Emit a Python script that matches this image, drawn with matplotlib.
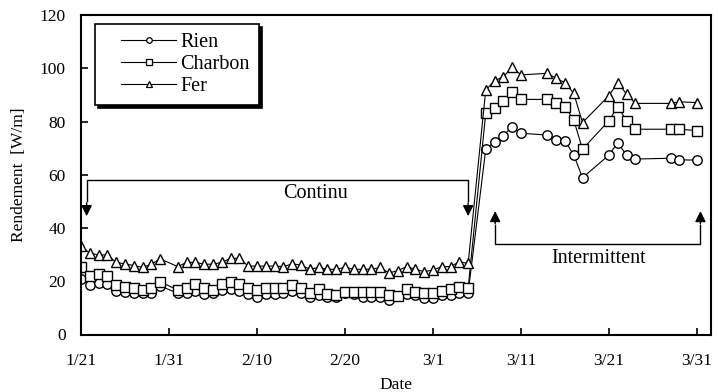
import matplotlib
matplotlib.use("Agg")
import matplotlib.pyplot as plt
from matplotlib.lines import Line2D
from matplotlib.legend_handler import HandlerLine2D

plt.rcParams['font.family'] = ['Liberation Serif', 'DejaVu Serif']

# day offsets from 1/21
days = [0, 1, 2, 3, 4, 5, 6, 7, 8, 9,
        11, 12, 13, 14, 15, 16, 17, 18, 19, 20, 21, 22, 23, 24, 25, 26, 27, 28,
        29, 30, 31, 32, 33, 34, 35, 36, 37, 38, 39, 40, 41, 42, 43, 44,
        46, 47, 48, 49, 50, 53, 54, 55, 56, 57, 60, 61, 62, 63, 67, 68, 70]

rien = [20.7, 18.6, 19.5, 19.0, 16.3, 16.1, 15.7, 15.5, 15.5, 18.2,
        15.5, 15.7, 16.5, 15.2, 15.5, 16.7, 17.0, 16.5, 15.2, 14.2, 15.2, 15.2, 15.5, 16.5, 15.7, 14.2, 14.8, 14.2,
        14.2, 15.7, 15.2, 14.2, 14.2, 14.2, 13.0, 14.5, 15.2, 14.8, 13.6, 13.6, 14.8, 14.8, 15.7, 15.7,
        69.6, 72.4, 74.6, 78.1, 75.6, 74.9, 73.1, 72.8, 67.4, 58.9, 67.4, 72.0, 67.4, 65.9, 66.2, 65.6, 65.5]

charbon = [25.5, 22.0, 22.6, 22.0, 18.6, 18.0, 17.3, 16.7, 17.3, 19.8,
           16.7, 17.3, 19.0, 17.3, 16.7, 19.0, 19.6, 18.8, 17.3, 16.7, 17.3, 17.3, 17.3, 18.5, 17.3, 15.7, 17.0, 15.2,
           14.8, 16.1, 16.1, 16.1, 16.1, 16.1, 14.8, 14.5, 17.0, 16.1, 15.5, 15.5, 16.3, 17.0, 17.7, 17.5,
           83.1, 85.0, 87.8, 91.0, 88.3, 88.3, 87.1, 85.6, 80.6, 69.6, 80.3, 85.6, 80.3, 77.1, 77.1, 77.1, 76.6]

fer = [33.2, 30.5, 29.9, 29.9, 27.1, 26.5, 25.9, 25.2, 26.4, 28.4,
       25.5, 27.1, 27.1, 26.4, 26.4, 27.1, 28.6, 28.6, 25.7, 25.7, 25.7, 25.7, 25.5, 26.5, 26.1, 24.5, 25.2, 24.5,
       24.5, 25.2, 24.5, 24.5, 24.5, 25.2, 23.1, 24.0, 25.5, 24.5, 23.6, 24.2, 25.5, 25.5, 27.3, 26.7,
       91.8, 95.3, 96.8, 100.4, 97.5, 98.1, 96.2, 94.6, 90.6, 79.6, 89.7, 94.6, 90.3, 86.8, 86.8, 87.4, 87.1]

series_names = ["Rien", "Charbon", "Fer"]
markers = ["o", "s", "^"]

tick_days = [0, 10, 20, 30, 40, 50, 60, 70]
tick_labels = ["1/21", "1/31", "2/10", "2/20", "3/1", "3/11", "3/21", "3/31"]
y_ticks = [0, 20, 40, 60, 80, 100, 120]

fig = plt.figure(figsize=(7.18, 3.92), dpi=100)
ax = fig.add_axes([81/718, 1-334.5/392, 630/718, 319.5/392])

for vals, m, name in zip([rien, charbon, fer], markers, series_names):
    ax.plot(days, vals, color='black', lw=0.8, marker=m, markersize=6.8,
            markerfacecolor='white', markeredgecolor='black', markeredgewidth=1.0, label=name)

ax.set_xlim(0, 71.6)
ax.set_ylim(0, 120)
ax.set_xticks(tick_days)
ax.set_xticklabels(tick_labels)
ax.set_yticks(y_ticks)
ax.tick_params(axis='both', direction='in', length=5, width=1.2, labelsize=12.5)
ax.tick_params(axis='x', pad=13)
ax.tick_params(axis='y', pad=11)
for s in ax.spines.values():
    s.set_linewidth(1.5)

ax.set_xlabel("Date", fontsize=12.5, labelpad=6)
ax.set_ylabel("Rendement  [W/m]", fontsize=12.5, labelpad=9)

# Continu bracket
ax.plot([0.64, 0.64, 44.0, 44.0], [50, 58, 58, 50], color='black', lw=1.0)
for xa in [0.64, 44.0]:
    ax.annotate('', xy=(xa, 43.4), xytext=(xa, 50.5),
                arrowprops=dict(arrowstyle='-|>', color='black', lw=1.0, mutation_scale=16))
ax.text(26.6, 52.8, "Continu", ha='center', va='center', fontsize=14.5)

# Intermittent bracket
ax.plot([47.07, 47.07, 70.4, 70.4], [41, 34, 34, 41], color='black', lw=1.0)
for xa in [47.07, 70.4]:
    ax.annotate('', xy=(xa, 47.4), xytext=(xa, 40.5),
                arrowprops=dict(arrowstyle='-|>', color='black', lw=1.0, mutation_scale=16))
ax.text(58.8, 28.6, "Intermittent", ha='center', va='center', fontsize=14.5)


class ShiftedHandler(HandlerLine2D):
    def __init__(self, shift=0.0, **kw):
        super().__init__(**kw)
        self.shift = shift

    def create_artists(self, legend, orig_handle, xdescent, ydescent, width, height, fontsize, trans):
        return super().create_artists(legend, orig_handle, xdescent - self.shift, ydescent,
                                      width - self.shift, height, fontsize, trans)


handles = [Line2D([0], [0], color='black', lw=0.8, marker=m, markersize=4,
                  markerfacecolor='white', markeredgecolor='black', markeredgewidth=0.9)
           for m in markers]
hmap = {h: ShiftedHandler(shift=12) for h in handles}
leg = ax.legend(handles, series_names, loc='upper left', bbox_to_anchor=(0.022, 0.972),
                borderaxespad=0, fontsize=14.5, frameon=True, fancybox=False,
                shadow={'color': 'black', 'alpha': 1}, handlelength=3.6,
                borderpad=0.45, labelspacing=0.15, handletextpad=0.2, handler_map=hmap)
leg.get_frame().set_edgecolor('black')
leg.get_frame().set_linewidth(1.2)
leg.get_frame().set_alpha(1)
leg.get_frame().set_facecolor('white')

fig.savefig("out.png", dpi=100)
